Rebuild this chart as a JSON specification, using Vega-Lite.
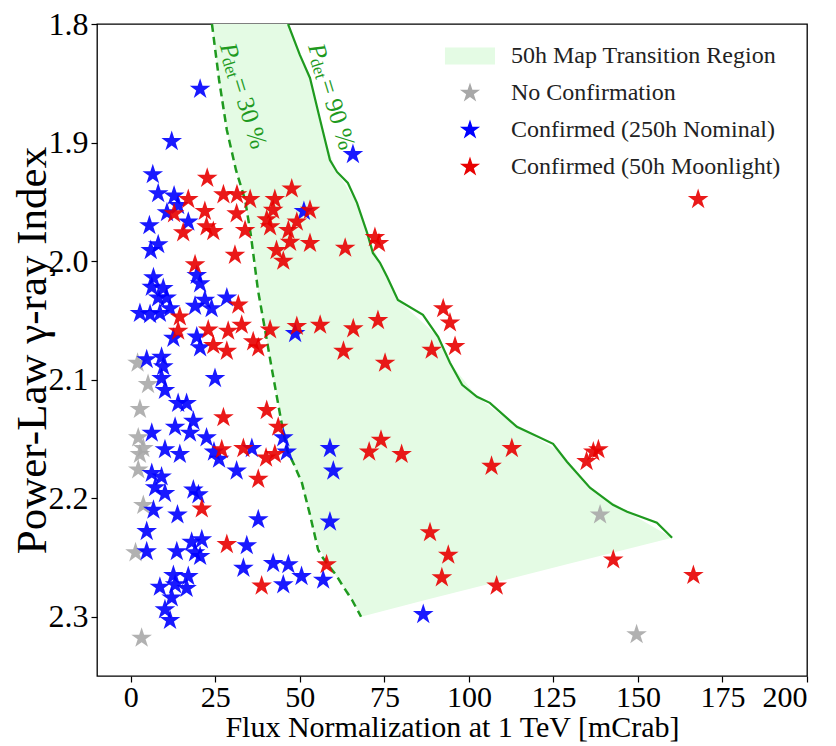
{
"$schema":"https://vega.github.io/schema/vega-lite/v6.json",
"width":710,"height":652,
"autosize":{"type":"none"},
"padding":{"left":97,"top":24,"right":29,"bottom":70},
"background":"white",
"config":{
 "view":{"stroke":"black","strokeWidth":1.3},
 "font":"Liberation Serif",
 "axis":{"domain":false,"grid":false,"tickColor":"black","tickWidth":1.2,"tickSize":6,"labelFont":"Liberation Serif","labelFontSize":32,"labelColor":"black","titleFont":"Liberation Serif","titleFontWeight":"normal","titleColor":"black"},
 "axisX":{"labelPadding":0,"labelFontSize":30,"titleFontSize":30,"titlePadding":0},
 "axisY":{"labelPadding":3,"titleFontSize":43,"titleX":-65,"titleBaseline":"middle"},
 "legend":{"orient":"none","legendX":361,"legendY":20,"padding":0,"labelFont":"Liberation Serif","labelFontSize":24,"labelColor":"#222222","labelLimit":400,"labelOffset":29,"symbolSize":450,"rowPadding":13,"symbolStrokeWidth":0,"symbolOpacity":1}
},
"datasets":{
 "region":[
  {"y":1.8,"x":24.0,"xr":46.5},{"y":1.8472,"x":26.1,"xr":53.1},{"y":1.8894,"x":28.4,"xr":56.6},{"y":1.9231,"x":31.1,"xr":60.6},
  {"y":1.9509,"x":33.9,"xr":66.9},{"y":1.9762,"x":35.5,"xr":69.9},{"y":2.0015,"x":36.7,"xr":73.7},{"y":2.0327,"x":38.0,"xr":79.0},
  {"y":2.0639,"x":40.0,"xr":90.9},{"y":2.0858,"x":41.5,"xr":94.4},{"y":2.1145,"x":43.2,"xr":102.4},{"y":2.1398,"x":44.8,"xr":114.2},
  {"y":2.1592,"x":46.2,"xr":126.1},{"y":2.1912,"x":50.9,"xr":135.8},{"y":2.2115,"x":52.7,"xr":146.8},{"y":2.2334,"x":54.5,"xr":160.1},
  {"y":2.2562,"x":58.3,"xr":128.4},{"y":2.2731,"x":62.5,"xr":105.0},{"y":2.2857,"x":65.4,"xr":87.4},{"y":2.3,"x":68.1,"xr":68.1}
 ],
 "p30":[
  {"i":0,"x":24.0,"y":1.8},{"i":1,"x":26.1,"y":1.847},{"i":2,"x":28.4,"y":1.8894},{"i":3,"x":31.1,"y":1.9231},
  {"i":4,"x":33.8,"y":1.9484},{"i":5,"x":35.5,"y":1.9779},{"i":6,"x":37.6,"y":2.0243},{"i":7,"x":39.7,"y":2.058},
  {"i":8,"x":41.5,"y":2.0875},{"i":9,"x":43.2,"y":2.1145},{"i":10,"x":44.7,"y":2.1381},{"i":11,"x":46.2,"y":2.1592},
  {"i":12,"x":48.3,"y":2.1718},{"i":13,"x":50.6,"y":2.187},{"i":14,"x":53.0,"y":2.214},{"i":15,"x":55.4,"y":2.2435},
  {"i":16,"x":56.8,"y":2.2503},{"i":17,"x":58.3,"y":2.2562},{"i":18,"x":60.7,"y":2.2646},{"i":19,"x":62.5,"y":2.2731},
  {"i":20,"x":65.4,"y":2.2857},{"i":21,"x":68.1,"y":2.3}
 ],
 "p90":[
  {"i":0,"x":46.5,"y":1.8},{"i":1,"x":50.0,"y":1.8261},{"i":2,"x":53.0,"y":1.8455},{"i":3,"x":56.0,"y":1.8809},
  {"i":4,"x":58.9,"y":1.9147},{"i":5,"x":61.0,"y":1.9248},{"i":6,"x":64.2,"y":1.9341},{"i":7,"x":66.9,"y":1.9509},
  {"i":8,"x":69.9,"y":1.9762},{"i":9,"x":71.6,"y":1.9931},{"i":10,"x":73.7,"y":2.0015},{"i":11,"x":75.8,"y":2.0133},
  {"i":12,"x":79.0,"y":2.0327},{"i":13,"x":86.4,"y":2.0454},{"i":14,"x":90.9,"y":2.0639},{"i":15,"x":94.4,"y":2.0858},
  {"i":16,"x":98.0,"y":2.1044},{"i":17,"x":102.4,"y":2.1145},{"i":18,"x":106.2,"y":2.1196},{"i":19,"x":114.2,"y":2.1398},
  {"i":20,"x":124.9,"y":2.1541},{"i":21,"x":129.0,"y":2.1693},{"i":22,"x":135.8,"y":2.1912},{"i":23,"x":142.6,"y":2.2056},
  {"i":24,"x":146.8,"y":2.2115},{"i":25,"x":155.6,"y":2.2207},{"i":26,"x":160.1,"y":2.2334}
 ],
 "annP":[{"x":28.6,"y":1.8165,"t":"P"},{"x":54.7,"y":1.8171,"t":"P"}],
 "annSub":[{"x":28.3,"y":1.8285,"t":"det"},{"x":54.4,"y":1.8293,"t":"det"}],
 "annEq":[{"x":31.8,"y":1.8462,"t":"= 30 %"},{"x":57.9,"y":1.8471,"t":"= 90 %"}],
 "stars":[
  {"x":2.0,"y":2.086,"cat":"No Confirmation"},{"x":5.1,"y":2.104,"cat":"No Confirmation"},{"x":2.7,"y":2.125,"cat":"No Confirmation"},
  {"x":2.2,"y":2.149,"cat":"No Confirmation"},{"x":3.7,"y":2.158,"cat":"No Confirmation"},{"x":2.7,"y":2.163,"cat":"No Confirmation"},
  {"x":2.2,"y":2.176,"cat":"No Confirmation"},{"x":3.7,"y":2.206,"cat":"No Confirmation"},{"x":1.4,"y":2.246,"cat":"No Confirmation"},
  {"x":3.2,"y":2.318,"cat":"No Confirmation"},{"x":138.8,"y":2.214,"cat":"No Confirmation"},{"x":149.6,"y":2.315,"cat":"No Confirmation"},
  {"x":20.5,"y":1.855,"cat":"Confirmed (250h Nominal)"},{"x":12.1,"y":1.899,"cat":"Confirmed (250h Nominal)"},{"x":65.7,"y":1.910,"cat":"Confirmed (250h Nominal)"},
  {"x":6.5,"y":1.927,"cat":"Confirmed (250h Nominal)"},{"x":8.1,"y":1.943,"cat":"Confirmed (250h Nominal)"},{"x":12.8,"y":1.945,"cat":"Confirmed (250h Nominal)"},
  {"x":14.0,"y":1.953,"cat":"Confirmed (250h Nominal)"},{"x":10.7,"y":1.959,"cat":"Confirmed (250h Nominal)"},{"x":51.2,"y":1.958,"cat":"Confirmed (250h Nominal)"},
  {"x":5.5,"y":1.970,"cat":"Confirmed (250h Nominal)"},{"x":17.0,"y":1.967,"cat":"Confirmed (250h Nominal)"},{"x":8.1,"y":1.986,"cat":"Confirmed (250h Nominal)"},
  {"x":5.9,"y":1.991,"cat":"Confirmed (250h Nominal)"},{"x":19.5,"y":2.012,"cat":"Confirmed (250h Nominal)"},{"x":6.7,"y":2.014,"cat":"Confirmed (250h Nominal)"},
  {"x":6.2,"y":2.022,"cat":"Confirmed (250h Nominal)"},{"x":9.6,"y":2.023,"cat":"Confirmed (250h Nominal)"},{"x":20.5,"y":2.019,"cat":"Confirmed (250h Nominal)"},
  {"x":8.1,"y":2.031,"cat":"Confirmed (250h Nominal)"},{"x":10.6,"y":2.031,"cat":"Confirmed (250h Nominal)"},{"x":2.7,"y":2.044,"cat":"Confirmed (250h Nominal)"},
  {"x":5.7,"y":2.045,"cat":"Confirmed (250h Nominal)"},{"x":8.6,"y":2.044,"cat":"Confirmed (250h Nominal)"},{"x":11.6,"y":2.040,"cat":"Confirmed (250h Nominal)"},
  {"x":19.0,"y":2.038,"cat":"Confirmed (250h Nominal)"},{"x":21.9,"y":2.033,"cat":"Confirmed (250h Nominal)"},{"x":23.9,"y":2.040,"cat":"Confirmed (250h Nominal)"},
  {"x":28.4,"y":2.031,"cat":"Confirmed (250h Nominal)"},{"x":48.6,"y":2.061,"cat":"Confirmed (250h Nominal)"},{"x":19.5,"y":2.064,"cat":"Confirmed (250h Nominal)"},
  {"x":12.6,"y":2.065,"cat":"Confirmed (250h Nominal)"},{"x":20.5,"y":2.073,"cat":"Confirmed (250h Nominal)"},{"x":4.7,"y":2.083,"cat":"Confirmed (250h Nominal)"},
  {"x":9.1,"y":2.081,"cat":"Confirmed (250h Nominal)"},{"x":9.6,"y":2.089,"cat":"Confirmed (250h Nominal)"},{"x":24.9,"y":2.099,"cat":"Confirmed (250h Nominal)"},
  {"x":9.1,"y":2.099,"cat":"Confirmed (250h Nominal)"},{"x":10.1,"y":2.109,"cat":"Confirmed (250h Nominal)"},{"x":14.0,"y":2.120,"cat":"Confirmed (250h Nominal)"},
  {"x":16.5,"y":2.120,"cat":"Confirmed (250h Nominal)"},{"x":18.5,"y":2.135,"cat":"Confirmed (250h Nominal)"},{"x":13.1,"y":2.140,"cat":"Confirmed (250h Nominal)"},
  {"x":6.2,"y":2.145,"cat":"Confirmed (250h Nominal)"},{"x":17.5,"y":2.145,"cat":"Confirmed (250h Nominal)"},{"x":22.4,"y":2.149,"cat":"Confirmed (250h Nominal)"},
  {"x":45.1,"y":2.149,"cat":"Confirmed (250h Nominal)"},{"x":58.9,"y":2.158,"cat":"Confirmed (250h Nominal)"},{"x":10.1,"y":2.159,"cat":"Confirmed (250h Nominal)"},
  {"x":14.5,"y":2.163,"cat":"Confirmed (250h Nominal)"},{"x":24.6,"y":2.161,"cat":"Confirmed (250h Nominal)"},{"x":26.1,"y":2.167,"cat":"Confirmed (250h Nominal)"},
  {"x":35.8,"y":2.158,"cat":"Confirmed (250h Nominal)"},{"x":46.1,"y":2.161,"cat":"Confirmed (250h Nominal)"},{"x":31.3,"y":2.177,"cat":"Confirmed (250h Nominal)"},
  {"x":59.9,"y":2.177,"cat":"Confirmed (250h Nominal)"},{"x":6.2,"y":2.179,"cat":"Confirmed (250h Nominal)"},{"x":9.1,"y":2.182,"cat":"Confirmed (250h Nominal)"},
  {"x":7.2,"y":2.191,"cat":"Confirmed (250h Nominal)"},{"x":10.1,"y":2.196,"cat":"Confirmed (250h Nominal)"},{"x":18.5,"y":2.193,"cat":"Confirmed (250h Nominal)"},
  {"x":20.0,"y":2.197,"cat":"Confirmed (250h Nominal)"},{"x":6.7,"y":2.210,"cat":"Confirmed (250h Nominal)"},{"x":13.8,"y":2.214,"cat":"Confirmed (250h Nominal)"},
  {"x":37.7,"y":2.218,"cat":"Confirmed (250h Nominal)"},{"x":58.9,"y":2.220,"cat":"Confirmed (250h Nominal)"},{"x":4.7,"y":2.228,"cat":"Confirmed (250h Nominal)"},
  {"x":4.7,"y":2.245,"cat":"Confirmed (250h Nominal)"},{"x":13.6,"y":2.245,"cat":"Confirmed (250h Nominal)"},{"x":18.0,"y":2.237,"cat":"Confirmed (250h Nominal)"},
  {"x":21.0,"y":2.235,"cat":"Confirmed (250h Nominal)"},{"x":20.5,"y":2.249,"cat":"Confirmed (250h Nominal)"},{"x":19.0,"y":2.246,"cat":"Confirmed (250h Nominal)"},
  {"x":34.3,"y":2.240,"cat":"Confirmed (250h Nominal)"},{"x":33.3,"y":2.259,"cat":"Confirmed (250h Nominal)"},{"x":42.1,"y":2.255,"cat":"Confirmed (250h Nominal)"},
  {"x":46.6,"y":2.256,"cat":"Confirmed (250h Nominal)"},{"x":50.5,"y":2.266,"cat":"Confirmed (250h Nominal)"},{"x":56.9,"y":2.269,"cat":"Confirmed (250h Nominal)"},
  {"x":45.1,"y":2.273,"cat":"Confirmed (250h Nominal)"},{"x":12.6,"y":2.265,"cat":"Confirmed (250h Nominal)"},{"x":17.0,"y":2.266,"cat":"Confirmed (250h Nominal)"},
  {"x":8.6,"y":2.275,"cat":"Confirmed (250h Nominal)"},{"x":13.1,"y":2.273,"cat":"Confirmed (250h Nominal)"},{"x":16.5,"y":2.276,"cat":"Confirmed (250h Nominal)"},
  {"x":12.1,"y":2.284,"cat":"Confirmed (250h Nominal)"},{"x":10.1,"y":2.294,"cat":"Confirmed (250h Nominal)"},{"x":11.6,"y":2.303,"cat":"Confirmed (250h Nominal)"},
  {"x":86.5,"y":2.298,"cat":"Confirmed (250h Nominal)"},
  {"x":22.6,"y":1.930,"cat":"Confirmed (50h Moonlight)"},{"x":167.8,"y":1.948,"cat":"Confirmed (50h Moonlight)"},{"x":47.6,"y":1.939,"cat":"Confirmed (50h Moonlight)"},
  {"x":17.0,"y":1.948,"cat":"Confirmed (50h Moonlight)"},{"x":27.4,"y":1.944,"cat":"Confirmed (50h Moonlight)"},{"x":31.4,"y":1.944,"cat":"Confirmed (50h Moonlight)"},
  {"x":35.3,"y":1.948,"cat":"Confirmed (50h Moonlight)"},{"x":42.6,"y":1.948,"cat":"Confirmed (50h Moonlight)"},{"x":42.1,"y":1.957,"cat":"Confirmed (50h Moonlight)"},
  {"x":53.0,"y":1.957,"cat":"Confirmed (50h Moonlight)"},{"x":31.3,"y":1.960,"cat":"Confirmed (50h Moonlight)"},{"x":12.8,"y":1.960,"cat":"Confirmed (50h Moonlight)"},
  {"x":21.9,"y":1.958,"cat":"Confirmed (50h Moonlight)"},{"x":49.1,"y":1.967,"cat":"Confirmed (50h Moonlight)"},{"x":40.2,"y":1.965,"cat":"Confirmed (50h Moonlight)"},
  {"x":41.2,"y":1.971,"cat":"Confirmed (50h Moonlight)"},{"x":33.8,"y":1.974,"cat":"Confirmed (50h Moonlight)"},{"x":46.6,"y":1.974,"cat":"Confirmed (50h Moonlight)"},
  {"x":22.4,"y":1.971,"cat":"Confirmed (50h Moonlight)"},{"x":24.4,"y":1.975,"cat":"Confirmed (50h Moonlight)"},{"x":15.5,"y":1.976,"cat":"Confirmed (50h Moonlight)"},
  {"x":47.1,"y":1.984,"cat":"Confirmed (50h Moonlight)"},{"x":53.0,"y":1.985,"cat":"Confirmed (50h Moonlight)"},{"x":63.4,"y":1.989,"cat":"Confirmed (50h Moonlight)"},
  {"x":72.2,"y":1.980,"cat":"Confirmed (50h Moonlight)"},{"x":73.4,"y":1.985,"cat":"Confirmed (50h Moonlight)"},{"x":43.1,"y":1.991,"cat":"Confirmed (50h Moonlight)"},
  {"x":45.1,"y":2.000,"cat":"Confirmed (50h Moonlight)"},{"x":30.8,"y":1.995,"cat":"Confirmed (50h Moonlight)"},{"x":19.0,"y":2.003,"cat":"Confirmed (50h Moonlight)"},
  {"x":31.8,"y":2.037,"cat":"Confirmed (50h Moonlight)"},{"x":14.5,"y":2.047,"cat":"Confirmed (50h Moonlight)"},{"x":73.1,"y":2.050,"cat":"Confirmed (50h Moonlight)"},
  {"x":14.0,"y":2.059,"cat":"Confirmed (50h Moonlight)"},{"x":22.9,"y":2.058,"cat":"Confirmed (50h Moonlight)"},{"x":28.8,"y":2.059,"cat":"Confirmed (50h Moonlight)"},
  {"x":32.8,"y":2.054,"cat":"Confirmed (50h Moonlight)"},{"x":24.4,"y":2.071,"cat":"Confirmed (50h Moonlight)"},{"x":28.4,"y":2.076,"cat":"Confirmed (50h Moonlight)"},
  {"x":36.2,"y":2.068,"cat":"Confirmed (50h Moonlight)"},{"x":37.7,"y":2.073,"cat":"Confirmed (50h Moonlight)"},{"x":41.2,"y":2.058,"cat":"Confirmed (50h Moonlight)"},
  {"x":49.1,"y":2.055,"cat":"Confirmed (50h Moonlight)"},{"x":56.0,"y":2.054,"cat":"Confirmed (50h Moonlight)"},{"x":65.8,"y":2.057,"cat":"Confirmed (50h Moonlight)"},
  {"x":62.9,"y":2.076,"cat":"Confirmed (50h Moonlight)"},{"x":75.2,"y":2.086,"cat":"Confirmed (50h Moonlight)"},{"x":92.4,"y":2.040,"cat":"Confirmed (50h Moonlight)"},
  {"x":94.4,"y":2.052,"cat":"Confirmed (50h Moonlight)"},{"x":89.0,"y":2.075,"cat":"Confirmed (50h Moonlight)"},{"x":95.9,"y":2.072,"cat":"Confirmed (50h Moonlight)"},
  {"x":40.2,"y":2.126,"cat":"Confirmed (50h Moonlight)"},{"x":27.4,"y":2.132,"cat":"Confirmed (50h Moonlight)"},{"x":43.6,"y":2.140,"cat":"Confirmed (50h Moonlight)"},
  {"x":74.0,"y":2.151,"cat":"Confirmed (50h Moonlight)"},{"x":70.5,"y":2.161,"cat":"Confirmed (50h Moonlight)"},{"x":80.1,"y":2.163,"cat":"Confirmed (50h Moonlight)"},
  {"x":26.9,"y":2.159,"cat":"Confirmed (50h Moonlight)"},{"x":33.3,"y":2.158,"cat":"Confirmed (50h Moonlight)"},{"x":40.0,"y":2.166,"cat":"Confirmed (50h Moonlight)"},
  {"x":42.6,"y":2.163,"cat":"Confirmed (50h Moonlight)"},{"x":112.7,"y":2.158,"cat":"Confirmed (50h Moonlight)"},{"x":136.8,"y":2.161,"cat":"Confirmed (50h Moonlight)"},
  {"x":138.3,"y":2.159,"cat":"Confirmed (50h Moonlight)"},{"x":134.8,"y":2.169,"cat":"Confirmed (50h Moonlight)"},{"x":106.7,"y":2.173,"cat":"Confirmed (50h Moonlight)"},
  {"x":37.7,"y":2.184,"cat":"Confirmed (50h Moonlight)"},{"x":21.0,"y":2.209,"cat":"Confirmed (50h Moonlight)"},{"x":88.5,"y":2.229,"cat":"Confirmed (50h Moonlight)"},
  {"x":28.4,"y":2.239,"cat":"Confirmed (50h Moonlight)"},{"x":57.9,"y":2.256,"cat":"Confirmed (50h Moonlight)"},{"x":38.7,"y":2.274,"cat":"Confirmed (50h Moonlight)"},
  {"x":93.9,"y":2.248,"cat":"Confirmed (50h Moonlight)"},{"x":92.0,"y":2.267,"cat":"Confirmed (50h Moonlight)"},{"x":108.2,"y":2.274,"cat":"Confirmed (50h Moonlight)"},
  {"x":142.7,"y":2.252,"cat":"Confirmed (50h Moonlight)"},{"x":166.4,"y":2.265,"cat":"Confirmed (50h Moonlight)"}
 ]
},
"encoding":{
 "x":{"field":"x","type":"quantitative","scale":{"domain":[-10,200],"nice":false,"zero":false},"axis":{"values":[0,25,50,75,100,125,150,175,200]},"title":"Flux Normalization at 1 TeV [mCrab]"},
 "y":{"field":"y","type":"quantitative","scale":{"domain":[1.8,2.35],"nice":false,"zero":false,"reverse":true},"axis":{"values":[1.8,1.9,2.0,2.1,2.2,2.3],"format":".1f"},"title":"Power-Law γ-ray Index"}
},
"layer":[
 {"data":{"name":"region"},"mark":{"type":"area","orient":"horizontal","color":"#e4fbe4","clip":true},
  "encoding":{"x2":{"field":"xr"}}},
 {"data":{"name":"p30"},"mark":{"type":"line","color":"#1f9a1f","strokeWidth":2.5,"strokeDash":[8,5],"clip":true},"encoding":{"order":{"field":"i","type":"quantitative"}}},
 {"data":{"name":"p90"},"mark":{"type":"line","color":"#1f9a1f","strokeWidth":2.2,"clip":true},"encoding":{"order":{"field":"i","type":"quantitative"}}},
 {"data":{"name":"stars"},"mark":{"type":"point","filled":true,"size":470,"opacity":0.9},
  "encoding":{
   "color":{"field":"cat","type":"nominal","title":null,
    "scale":{"domain":["50h Map Transition Region","No Confirmation","Confirmed (250h Nominal)","Confirmed (50h Moonlight)"],"range":["#e4fbe4","#a8a8a8","#0000ff","#e80000"]}},
   "shape":{"field":"cat","type":"nominal","title":null,
    "scale":{"domain":["50h Map Transition Region","No Confirmation","Confirmed (250h Nominal)","Confirmed (50h Moonlight)"],
     "range":["M-2.36,-0.79L2.36,-0.79L2.36,0.79L-2.36,0.79Z",
      "M0,-1L0.2245,-0.309L0.9511,-0.309L0.3633,0.118L0.5878,0.809L0,0.382L-0.5878,0.809L-0.3633,0.118L-0.9511,-0.309L-0.2245,-0.309Z",
      "M0,-1L0.2245,-0.309L0.9511,-0.309L0.3633,0.118L0.5878,0.809L0,0.382L-0.5878,0.809L-0.3633,0.118L-0.9511,-0.309L-0.2245,-0.309Z",
      "M0,-1L0.2245,-0.309L0.9511,-0.309L0.3633,0.118L0.5878,0.809L0,0.382L-0.5878,0.809L-0.3633,0.118L-0.9511,-0.309L-0.2245,-0.309Z"]}}}},
 {"data":{"name":"annP"},"mark":{"type":"text","angle":73,"align":"left","baseline":"middle","fontSize":25,"fontStyle":"italic","font":"Liberation Serif","color":"#1f9a1f"},"encoding":{"text":{"field":"t"}}},
 {"data":{"name":"annSub"},"mark":{"type":"text","angle":73,"align":"left","baseline":"middle","fontSize":17,"font":"Liberation Serif","color":"#1f9a1f"},"encoding":{"text":{"field":"t"}}},
 {"data":{"name":"annEq"},"mark":{"type":"text","angle":73,"align":"left","baseline":"middle","fontSize":25,"font":"Liberation Serif","color":"#1f9a1f"},"encoding":{"text":{"field":"t"}}}
]
}
